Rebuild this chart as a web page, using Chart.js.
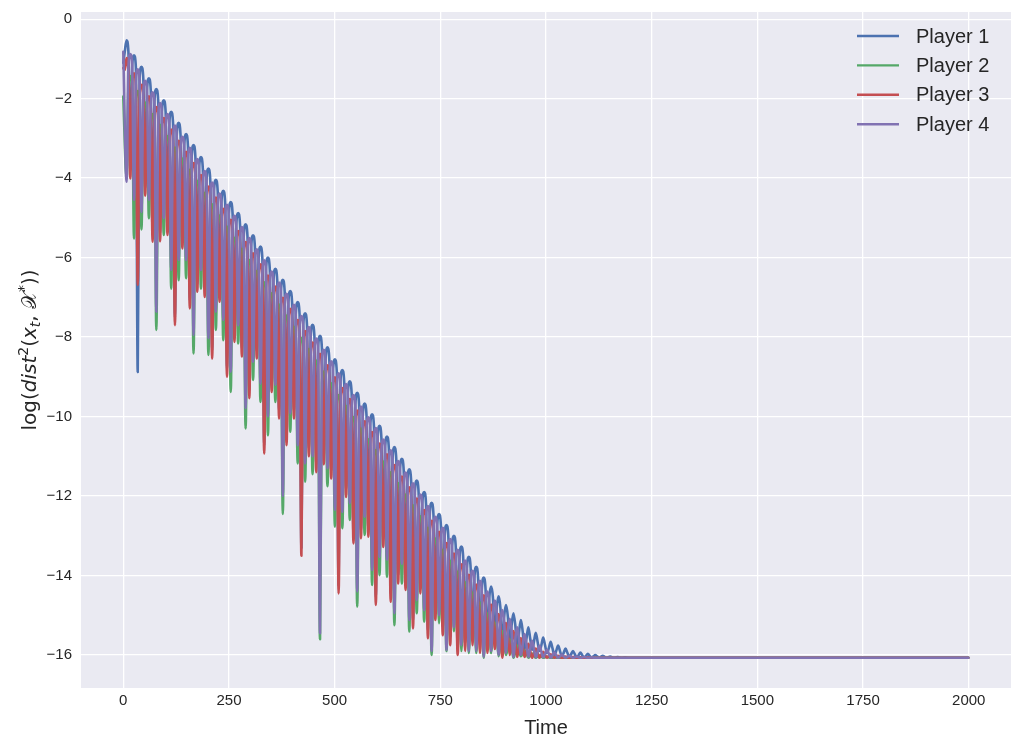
<!DOCTYPE html>
<html><head><meta charset="utf-8">
<script src="https://cdn.jsdelivr.net/npm/chart.js@4.4.1/dist/chart.umd.min.js"></script>
<style>html,body{margin:0;padding:0;background:#fff;}#wrap{width:1021px;height:748px;}</style>
</head><body><div id="wrap"><canvas id="c" width="1021" height="748"></canvas></div>
<script>
const seriesNames = ['Player 1', 'Player 2', 'Player 3', 'Player 4'];
const seriesColors = ['#4C72B0', '#55A868', '#C44E52', '#8172B2'];
const xTicks = [0, 250, 500, 750, 1000, 1250, 1500, 1750, 2000];
const yTicks = [0, -2, -4, -6, -8, -10, -12, -14, -16];

// oscillation timing: first Player 1 peak and cycle length (time units)
const cycleStart = 7.8;
const cyclePeriod = 17.6;
const shoulderDrop = 0.3;   // drop of an arch a quarter cycle away from its top
const lastTime = 1999;
const floorValue = -16.07;
const startValues = [-1.10, -1.95, -1.23, -0.82];

// Player 1 / Player 3: peaks at cycle times, dips half a cycle later
const player1Peaks = [-0.53,-0.91,-1.20,-1.49,-1.76,-2.04,-2.33,-2.61,-2.89,-3.17,
 -3.47,-3.76,-4.04,-4.32,-4.60,-4.88,-5.16,-5.44,-5.72,-6.00,
 -6.28,-6.56,-6.84,-7.12,-7.40,-7.69,-7.97,-8.26,-8.56,-8.83,
 -9.11,-9.40,-9.67,-9.94,-10.23,-10.50,-10.77,-11.06,-11.33,-11.61,
 -11.90,-12.17,-12.45,-12.73,-13.00,-13.27,-13.53,-13.78,-14.05,-14.28,
 -14.52,-14.74,-14.95,-15.12,-15.30,-15.44,-15.56,-15.67,-15.76,-15.84,
 -15.90,-15.94,-15.97,-16.00,-16.02,-16.04,-16.05,-16.06,-16.07,-16.07,-16.07];
const player1Dips = [-3.81,-8.88,-4.24,-5.40,-5.39,-5.23,-7.50,-5.57,-7.08,-6.66,
 -6.79,-8.34,-6.91,-8.80,-7.92,-8.29,-9.34,-8.34,-10.73,-9.18,
 -9.85,-10.52,-9.85,-13.30,-10.80,-11.20,-11.00,-11.36,-14.25,-11.82,
 -12.99,-12.86,-12.82,-14.54,-13.08,-14.46,-14.00,-14.16,-15.13,-14.25,
 -15.38,-14.92,-15.30,-15.55,-15.80,-15.70,-15.55,-15.75,-15.75,-15.65,
 -15.87,-15.80,-15.85,-15.85,-15.87,-15.90,-15.95,-16.00,-16.03,-16.05,
 -16.06,-16.07,-16.07,-16.07,-16.07,-16.07,-16.07,-16.07,-16.07,-16.07,-16.07];
const player3Peaks = [-0.98,-1.36,-1.65,-1.94,-2.21,-2.49,-2.78,-3.06,-3.34,-3.62,
 -3.92,-4.21,-4.49,-4.77,-5.05,-5.33,-5.61,-5.89,-6.17,-6.45,
 -6.73,-7.01,-7.29,-7.57,-7.85,-8.14,-8.42,-8.71,-9.01,-9.28,
 -9.56,-9.85,-10.12,-10.39,-10.68,-10.95,-11.22,-11.51,-11.78,-12.06,
 -12.35,-12.62,-12.90,-13.18,-13.45,-13.72,-13.98,-14.23,-14.50,-14.73,
 -14.97,-15.19,-15.40,-15.57,-15.72,-15.84,-15.92,-15.98,-16.02,-16.04,
 -16.05,-16.06,-16.06,-16.07,-16.07,-16.07,-16.07,-16.07,-16.07,-16.07,-16.07];
const player3Dips = [-4.01,-6.69,-4.44,-5.60,-5.59,-5.43,-7.70,-5.77,-7.28,-6.86,
 -6.99,-8.54,-7.11,-9.00,-8.12,-8.49,-9.54,-8.54,-10.93,-9.38,
 -10.05,-10.72,-10.05,-13.50,-11.00,-11.40,-11.20,-11.56,-14.45,-12.02,
 -13.19,-13.06,-13.02,-14.74,-13.28,-14.66,-14.20,-14.36,-15.33,-14.45,
 -15.58,-15.12,-15.50,-15.75,-16.00,-15.90,-15.75,-15.95,-15.95,-15.85,
 -16.07,-16.00,-16.05,-16.05,-16.07,-16.07,-16.07,-16.07,-16.07,-16.07,
 -16.07,-16.07,-16.07,-16.07,-16.07,-16.07,-16.07,-16.07,-16.07,-16.07,-16.07];

// Player 2 / Player 4: dips at cycle times, peaks half a cycle later
const player2Peaks = [-1.43,-1.81,-2.10,-2.39,-2.66,-2.94,-3.23,-3.51,-3.79,-4.07,
 -4.37,-4.66,-4.94,-5.22,-5.50,-5.78,-6.06,-6.34,-6.62,-6.90,
 -7.18,-7.46,-7.74,-8.02,-8.30,-8.59,-8.87,-9.16,-9.46,-9.73,
 -10.01,-10.30,-10.57,-10.84,-11.13,-11.40,-11.67,-11.96,-12.23,-12.51,
 -12.80,-13.07,-13.35,-13.63,-13.90,-14.17,-14.43,-14.68,-14.95,-15.18,
 -15.40,-15.60,-15.76,-15.88,-15.96,-16.01,-16.04,-16.06,-16.07,-16.07,
 -16.07,-16.07,-16.07,-16.07,-16.07,-16.07,-16.07,-16.07,-16.07,-16.07,-16.07];
const player2Dips = [-4.00,-5.52,-5.29,-5.01,-7.82,-5.43,-6.78,-6.57,-6.52,-8.41,
 -6.78,-8.45,-7.82,-8.08,-9.38,-8.16,-10.30,-9.08,-9.63,-10.47,
 -9.63,-12.45,-10.38,-11.18,-11.64,-11.45,-15.60,-11.75,-12.77,-12.81,
 -12.60,-14.78,-12.98,-14.24,-13.99,-14.03,-15.25,-14.20,-15.41,-14.95,
 -15.16,-16.00,-15.20,-15.90,-15.40,-15.90,-15.95,-15.95,-16.07,-15.95,
 -16.03,-16.00,-16.07,-16.03,-16.07,-16.07,-16.07,-16.07,-16.07,-16.07,
 -16.07,-16.07,-16.07,-16.07,-16.07,-16.07,-16.07,-16.07,-16.07,-16.07,-16.07];
const player4Peaks = [-0.88,-1.26,-1.55,-1.84,-2.11,-2.39,-2.68,-2.96,-3.24,-3.52,
 -3.82,-4.11,-4.39,-4.67,-4.95,-5.23,-5.51,-5.79,-6.07,-6.35,
 -6.63,-6.91,-7.19,-7.47,-7.75,-8.04,-8.32,-8.61,-8.91,-9.18,
 -9.46,-9.75,-10.02,-10.29,-10.58,-10.85,-11.12,-11.41,-11.68,-11.96,
 -12.25,-12.52,-12.80,-13.08,-13.35,-13.62,-13.88,-14.13,-14.40,-14.63,
 -14.87,-15.09,-15.30,-15.47,-15.64,-15.77,-15.87,-15.94,-15.99,-16.02,
 -16.04,-16.05,-16.06,-16.07,-16.07,-16.07,-16.07,-16.07,-16.07,-16.07,-16.07];
const player4Dips = [-4.09,-4.55,-4.85,-4.55,-7.36,-5.01,-6.31,-6.06,-6.06,-7.95,
 -6.31,-8.03,-7.36,-7.57,-8.87,-7.70,-9.79,-8.62,-9.17,-10.00,
 -9.20,-12.00,-9.92,-10.72,-11.18,-11.00,-15.45,-11.30,-12.35,-12.40,
 -12.18,-14.40,-12.52,-13.86,-13.53,-13.60,-14.95,-13.70,-15.12,-14.62,
 -14.87,-15.90,-15.00,-15.87,-15.30,-15.75,-15.90,-15.90,-16.05,-15.90,
 -16.00,-15.95,-16.05,-16.00,-16.05,-16.06,-16.06,-16.07,-16.07,-16.07,
 -16.07,-16.07,-16.07,-16.07,-16.07,-16.07,-16.07,-16.07,-16.07,-16.07,-16.07];

function buildSeries(start, peaks, dips, peakFirst) {
  const pts = [{x: 0, y: start}];
  const half = cyclePeriod / 2, q = cyclePeriod / 4;
  for (let k = 0; k < peaks.length; k++) {
    const t = cycleStart + k * cyclePeriod;
    const pk = peaks[k], dp = dips[k];
    const sh = Math.max(pk - shoulderDrop, (pk + dp) / 2);
    if (peakFirst) {
      pts.push({x: t - q, y: sh}, {x: t, y: pk}, {x: t + q, y: sh}, {x: t + half, y: dp});
    } else {
      pts.push({x: t, y: dp}, {x: t + q, y: sh}, {x: t + half, y: pk}, {x: t + half + q, y: sh});
    }
  }
  pts.push({x: lastTime, y: floorValue});
  return pts;
}

const seriesData = [
  buildSeries(startValues[0], player1Peaks, player1Dips, true),
  buildSeries(startValues[1], player2Peaks, player2Dips, false),
  buildSeries(startValues[2], player3Peaks, player3Dips, true),
  buildSeries(startValues[3], player4Peaks, player4Dips, false)
];

const TEXT = '#262626';
const SANS = '"Liberation Sans", Arial, sans-serif';

const bgPlugin = {
  id: 'bg',
  beforeDraw(chart) {
    const {ctx, chartArea: a} = chart;
    ctx.save();
    ctx.fillStyle = '#ffffff';
    ctx.fillRect(0, 0, chart.width, chart.height);
    ctx.fillStyle = '#EAEAF2';
    ctx.fillRect(a.left, a.top, a.right - a.left, a.bottom - a.top);
    ctx.restore();
  }
};

const yLabelPlugin = {
  id: 'ylabel',
  afterDraw(chart) {
    const ctx = chart.ctx;
    const fam = '"DejaVu Sans", sans-serif';
    const pieces = [
      {t: 'log(', f: '20px ' + fam, dy: 0},
      {t: 'dist', f: 'italic 20px ' + fam, dy: 0},
      {t: '2', f: '14px ' + fam, dy: -8},
      {t: '(', f: '20px ' + fam, dy: 0},
      {t: 'x', f: 'italic 20px ' + fam, dy: 0},
      {t: 't', f: 'italic 14px ' + fam, dy: 4},
      {t: ', ', f: '20px ' + fam, dy: 0},
      {t: '\u{1D4B3}', f: '20px ' + fam, dy: 0},
      {t: '*', f: '14px ' + fam, dy: -8},
      {t: '))', f: '20px ' + fam, dy: 0}
    ];
    ctx.save();
    let total = 0;
    pieces.forEach(p => { ctx.font = p.f; p.w = ctx.measureText(p.t).width; total += p.w; });
    const a = chart.chartArea;
    ctx.translate(29, (a.top + a.bottom) / 2);
    ctx.rotate(-Math.PI / 2);
    ctx.fillStyle = TEXT;
    ctx.textBaseline = 'alphabetic';
    let x = -total / 2;
    pieces.forEach(p => { ctx.font = p.f; ctx.fillText(p.t, x, 7 + p.dy); x += p.w; });
    ctx.restore();
  }
};

const legendPlugin = {
  id: 'customLegend',
  afterDraw(chart) {
    const ctx = chart.ctx;
    ctx.save();
    chart.data.datasets.forEach((ds, i) => {
      const y = 36 + i * 29.4;
      ctx.strokeStyle = ds.borderColor;
      ctx.lineWidth = 2.4;
      ctx.beginPath(); ctx.moveTo(857, y); ctx.lineTo(899, y); ctx.stroke();
      ctx.fillStyle = TEXT;
      ctx.font = '20px ' + SANS;
      ctx.textBaseline = 'middle';
      ctx.fillText(ds.label, 916, y + 1);
    });
    ctx.restore();
  }
};

const orders = [4, 3, 2, 1];
new Chart(document.getElementById('c'), {
  type: 'line',
  data: {
    datasets: seriesNames.map((name, i) => ({
      label: name,
      data: seriesData[i],
      borderColor: seriesColors[i],
      backgroundColor: seriesColors[i],
      order: orders[i],
      fill: false
    }))
  },
  options: {
    responsive: false,
    animation: false,
    events: [],
    layout: {padding: {top: 12, right: 10, left: 0, bottom: 0}},
    plugins: {legend: {display: false}, tooltip: {enabled: false}},
    elements: {
      point: {radius: 0},
      line: {borderWidth: 2.6, cubicInterpolationMode: 'monotone', borderJoinStyle: 'round', borderCapStyle: 'round'}
    },
    scales: {
      x: {
        type: 'linear', min: -100, max: 2100,
        afterBuildTicks: s => { s.ticks = xTicks.map(v => ({value: v})); },
        afterFit: s => { s.height = 60; s.paddingLeft = 0; s.paddingRight = 0; },
        grid: {color: '#ffffff', lineWidth: 1.3, drawTicks: false},
        border: {display: false},
        ticks: {padding: 4, color: TEXT, font: {family: SANS, size: 15}, maxRotation: 0, autoSkip: false,
                callback: v => String(v)},
        title: {display: true, text: 'Time', color: TEXT, font: {family: SANS, size: 20}, padding: {top: 0, bottom: 8}}
      },
      y: {
        type: 'linear', min: -16.83, max: 0.18,
        afterBuildTicks: s => { s.ticks = yTicks.map(v => ({value: v})); },
        afterFit: s => { s.width = 81; s.paddingTop = 0; s.paddingBottom = 0; },
        grid: {color: '#ffffff', lineWidth: 1.3, drawTicks: false},
        border: {display: false},
        ticks: {padding: 9, color: TEXT, font: {family: SANS, size: 15}, autoSkip: false,
                callback: v => (v < 0 ? '\u2212' + Math.abs(v) : String(v))}
      }
    }
  },
  plugins: [bgPlugin, yLabelPlugin, legendPlugin]
});
</script></body></html>
